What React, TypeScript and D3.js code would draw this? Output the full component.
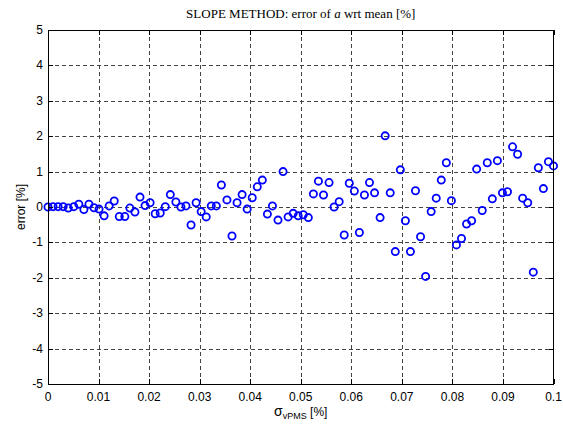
import React, { useEffect, useRef } from 'react';
import * as d3 from 'd3';

// sigma_vPMS [%] (100 samples, 0 .. 0.1)
const sigmaValues = [
  0, 0.0010, 0.0020, 0.0030, 0.0040, 0.0051, 0.0061, 0.0071, 0.0081, 0.0091,
  0.0101, 0.0111, 0.0121, 0.0131, 0.0141, 0.0152, 0.0162, 0.0172, 0.0182, 0.0192,
  0.0202, 0.0212, 0.0222, 0.0232, 0.0242, 0.0253, 0.0263, 0.0273, 0.0283, 0.0293,
  0.0303, 0.0313, 0.0323, 0.0333, 0.0343, 0.0354, 0.0364, 0.0374, 0.0384, 0.0394,
  0.0404, 0.0414, 0.0424, 0.0434, 0.0444, 0.0455, 0.0465, 0.0475, 0.0485, 0.0495,
  0.0505, 0.0515, 0.0525, 0.0535, 0.0545, 0.0556, 0.0566, 0.0576, 0.0586, 0.0596,
  0.0606, 0.0616, 0.0626, 0.0636, 0.0646, 0.0657, 0.0667, 0.0677, 0.0687, 0.0697,
  0.0707, 0.0717, 0.0727, 0.0737, 0.0747, 0.0758, 0.0768, 0.0778, 0.0788, 0.0798,
  0.0808, 0.0818, 0.0828, 0.0838, 0.0848, 0.0859, 0.0869, 0.0879, 0.0889, 0.0899,
  0.0909, 0.0919, 0.0929, 0.0939, 0.0949, 0.0960, 0.0970, 0.0980, 0.0990, 0.1000,
];

// error [%]
const errorValues = [
  0.00, 0.01, 0.01, 0.01, -0.03, 0.01, 0.08, -0.07, 0.08, -0.02,
  -0.06, -0.25, 0.03, 0.17, -0.27, -0.27, -0.03, -0.14, 0.28, 0.04,
  0.12, -0.19, -0.17, 0.01, 0.35, 0.14, 0.00, 0.03, -0.51, 0.12,
  -0.13, -0.28, 0.03, 0.03, 0.62, 0.20, -0.82, 0.12, 0.35, -0.06,
  0.26, 0.57, 0.76, -0.20, 0.03, -0.37, 1.00, -0.28, -0.18, -0.25,
  -0.22, -0.30, 0.37, 0.73, 0.34, 0.69, 0.00, 0.15, -0.79, 0.67,
  0.45, -0.72, 0.34, 0.69, 0.40, -0.30, 2.01, 0.40, -1.26, 1.05,
  -0.39, -1.26, 0.46, -0.84, -1.96, -0.13, 0.25, 0.76, 1.25, 0.18,
  -1.07, -0.89, -0.48, -0.39, 1.07, -0.10, 1.25, 0.23, 1.31, 0.40,
  0.43, 1.70, 1.49, 0.25, 0.12, -1.84, 1.11, 0.52, 1.28, 1.16,
];

const xTicks = [0, 0.01, 0.02, 0.03, 0.04, 0.05, 0.06, 0.07, 0.08, 0.09, 0.1];
const xTickLabels = ['0', '0.01', '0.02', '0.03', '0.04', '0.05', '0.06', '0.07', '0.08', '0.09', '0.1'];
const yTicks = [-5, -4, -3, -2, -1, 0, 1, 2, 3, 4, 5];

const W = 563;
const H = 429;

const App = () => {
  const svgRef = useRef<SVGSVGElement>(null);

  useEffect(() => {
    const svg = d3.select(svgRef.current);
    svg.selectAll('*').remove();

    const left = 48, right = 553.5, top = 30, bottom = 384;
    const x = d3.scaleLinear().domain([0, 0.1]).range([left, right]);
    const y = d3.scaleLinear().domain([-5, 5]).range([bottom, top]);
    const font = 'Liberation Sans, Arial, sans-serif';

    svg.append('rect').attr('width', W).attr('height', H).attr('fill', '#fff');

    // grid
    const grid = svg.append('g').attr('stroke', '#444').attr('stroke-width', 1)
      .attr('stroke-dasharray', '4,3').attr('shape-rendering', 'crispEdges');
    xTicks.slice(1, -1).forEach((t) => {
      grid.append('line').attr('x1', Math.round(x(t)) + 0.5).attr('x2', Math.round(x(t)) + 0.5)
        .attr('y1', top).attr('y2', bottom);
    });
    yTicks.slice(1, -1).forEach((t) => {
      grid.append('line').attr('y1', Math.round(y(t)) + 0.5).attr('y2', Math.round(y(t)) + 0.5)
        .attr('x1', left).attr('x2', right);
    });

    // points
    svg.append('g').selectAll('circle')
      .data(errorValues)
      .enter()
      .append('circle')
      .attr('cx', (d, i) => x(sigmaValues[i]))
      .attr('cy', (d) => y(d))
      .attr('r', 3.6)
      .attr('fill', 'none')
      .attr('stroke', '#0000ff')
      .attr('stroke-width', 1.8);

    // axis box with inward ticks on all sides
    const ax = svg.append('g').attr('stroke', '#000').attr('stroke-width', 1).attr('shape-rendering', 'crispEdges');
    ax.append('rect').attr('x', left).attr('y', top).attr('width', right - left).attr('height', bottom - top)
      .attr('fill', 'none');
    const tl = 5;
    xTicks.forEach((t) => {
      const px = Math.round(x(t)) + 0.5;
      ax.append('line').attr('x1', px).attr('x2', px).attr('y1', bottom).attr('y2', bottom - tl);
      ax.append('line').attr('x1', px).attr('x2', px).attr('y1', top).attr('y2', top + tl);
    });
    yTicks.forEach((t) => {
      const py = Math.round(y(t)) + 0.5;
      ax.append('line').attr('x1', left).attr('x2', left + tl).attr('y1', py).attr('y2', py);
      ax.append('line').attr('x1', right).attr('x2', right - tl).attr('y1', py).attr('y2', py);
    });

    // tick labels
    svg.append('g').selectAll('text')
      .data(xTicks)
      .enter()
      .append('text')
      .attr('x', (d) => x(d))
      .attr('y', bottom + 17)
      .attr('text-anchor', 'middle')
      .attr('font-family', font)
      .attr('font-size', 12)
      .text((d, i) => xTickLabels[i]);

    svg.append('g').selectAll('text')
      .data(yTicks)
      .enter()
      .append('text')
      .attr('x', left - 5)
      .attr('y', (d) => y(d) + 4)
      .attr('text-anchor', 'end')
      .attr('font-family', font)
      .attr('font-size', 12)
      .text((d) => String(d));

    // title
    const title = svg.append('text')
      .attr('x', (left + right) / 2)
      .attr('y', 18)
      .attr('text-anchor', 'middle')
      .attr('font-family', 'Liberation Serif, Times New Roman, serif')
      .attr('font-size', 13);
    title.append('tspan').text('SLOPE METHOD: error of ');
    title.append('tspan').attr('font-style', 'italic').text('a');
    title.append('tspan').text(' wrt mean [%]');

    // x label
    const xl = svg.append('text')
      .attr('x', (left + right) / 2)
      .attr('y', 416)
      .attr('text-anchor', 'middle')
      .attr('font-family', font)
      .attr('font-size', 12);
    xl.append('tspan').attr('font-size', 14).text('σ');
    xl.append('tspan').attr('font-size', 9).attr('dy', 3).text('vPMS');
    xl.append('tspan').attr('dy', -3).text(' [%]');

    // y label
    svg.append('text')
      .attr('transform', `translate(25, ${y(0)}) rotate(-90)`)
      .attr('text-anchor', 'middle')
      .attr('font-family', font)
      .attr('font-size', 12)
      .text('error [%]');
  }, []);

  return (
    <svg ref={svgRef} width={W} height={H} style={{ position: 'absolute', left: 0, top: 0 }}></svg>
  );
};

export default App;
